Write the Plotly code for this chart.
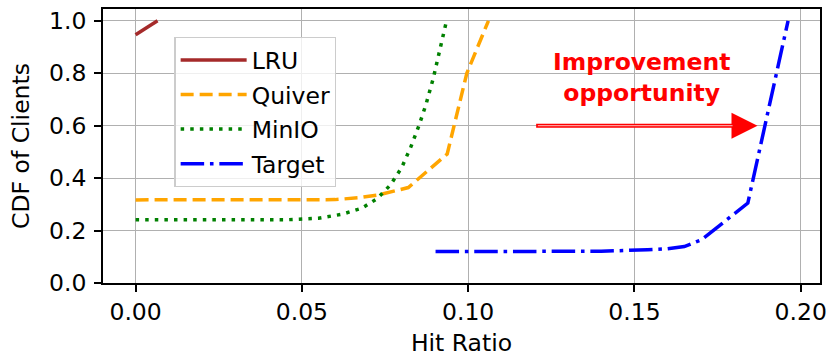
import plotly.graph_objects as go

# CDF of per-client hit ratio for each caching policy
lru_x = [0.0, 0.0066]
lru_y = [0.947, 1.0]

quiver_x = [0.0, 0.06, 0.067, 0.073, 0.082, 0.0937, 0.0996, 0.1061]
quiver_y = [0.317, 0.318, 0.325, 0.336, 0.364, 0.492, 0.80, 1.0]

minio_x = [0.0, 0.045, 0.055, 0.062, 0.068, 0.0727, 0.0767, 0.0800,
           0.0828, 0.0852, 0.0873, 0.0895, 0.0915, 0.0935]
minio_y = [0.241, 0.241, 0.247, 0.262, 0.285, 0.322, 0.375, 0.44,
           0.52, 0.60, 0.68, 0.78, 0.89, 1.0]

target_x = [0.0902, 0.14, 0.154, 0.160, 0.165, 0.1702, 0.1841, 0.1962]
target_y = [0.120, 0.121, 0.127, 0.131, 0.139, 0.165, 0.305, 1.0]

x_ticks = [0.0, 0.05, 0.10, 0.15, 0.20]
x_tick_labels = ["0.00", "0.05", "0.10", "0.15", "0.20"]
y_ticks = [0.0, 0.2, 0.4, 0.6, 0.8, 1.0]
y_tick_labels = ["0.0", "0.2", "0.4", "0.6", "0.8", "1.0"]

arrow_tail = (0.12, 0.6)
arrow_tip = (0.187, 0.6)
arrow_head_base = 0.1795
note_pos = (0.1522, 0.783)
note_text = "Improvement<br>opportunity"

FONT = "DejaVu Sans"
FS = 23.5
LW = 3.5

fig = go.Figure()
series = [
    ("LRU", lru_x, lru_y, "#a52a2a", "solid"),
    ("Quiver", quiver_x, quiver_y, "#ffa500", "13px,6px"),
    ("MinIO", minio_x, minio_y, "#008000", "3.5px,6.1px"),
    ("Target", target_x, target_y, "#0000ff", "23.5px,5.8px,3.6px,5.8px"),
]
for name, xs, ys, color, dash in series:
    fig.add_trace(go.Scatter(
        x=xs, y=ys, mode="lines", name=name, legendgroup=name,
        line=dict(color=color, width=LW, dash=dash),
    ))

axis_common = dict(
    showline=True, linecolor="black", linewidth=1.7, mirror=True,
    ticks="outside", ticklen=7, tickwidth=1.5, tickcolor="black",
    showgrid=True, gridcolor="#b0b0b0", gridwidth=1.3,
    zeroline=False,
    tickfont=dict(family=FONT, size=FS, color="black"),
)

fig.update_xaxes(
    range=[-0.0098, 0.2058], tickvals=x_ticks, ticktext=x_tick_labels,
    title=dict(text="Hit Ratio", font=dict(family=FONT, size=FS, color="black"), standoff=10),
    **axis_common,
)
fig.update_yaxes(
    range=[0, 1.045], tickvals=y_ticks, ticktext=y_tick_labels,
    ticklabelstandoff=3,
    title=dict(text="CDF of Clients", font=dict(family=FONT, size=FS, color="black"), standoff=13),
    **axis_common,
)

# arrow from the current best policy towards the target curve
fig.add_annotation(
    x=arrow_tip[0], y=arrow_tip[1], ax=arrow_tail[0], ay=arrow_tail[1],
    xref="x", yref="y", axref="x", ayref="y",
    text="", showarrow=True, arrowhead=2, arrowsize=1.3,
    arrowwidth=4, arrowcolor="#ff0000",
)
# lighter core of the arrow shaft
fig.add_annotation(
    x=arrow_head_base, y=arrow_tip[1], ax=arrow_tail[0] + 0.0005, ay=arrow_tail[1],
    xref="x", yref="y", axref="x", ayref="y",
    text="", showarrow=True, arrowhead=0, arrowwidth=1.2, arrowcolor="#ff9a9a",
)
fig.add_annotation(
    x=note_pos[0], y=note_pos[1], xref="x", yref="y",
    text=note_text, showarrow=False, align="center",
    font=dict(family=FONT, size=FS, color="#ff0000", weight="bold"),
)

fig.update_layout(
    width=833, height=358,
    margin=dict(l=103, r=6, t=9, b=75),
    paper_bgcolor="white", plot_bgcolor="white",
    font=dict(family=FONT, size=FS, color="black"),
    legend=dict(
        x=0.0995, y=0.898, xanchor="left", yanchor="top",
        bgcolor="rgba(255,255,255,0.8)", bordercolor="#cccccc", borderwidth=1.3,
        font=dict(family=FONT, size=FS, color="black"),
        tracegroupgap=1, itemwidth=66,
    ),
)

fig.write_html("out.html")
